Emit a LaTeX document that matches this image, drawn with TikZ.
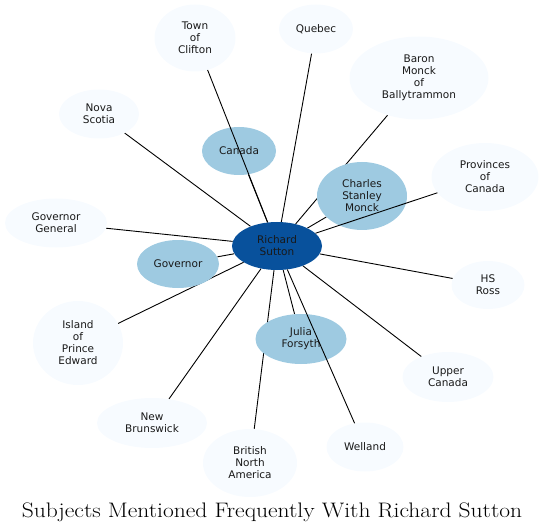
\documentclass[tikz,border=0pt]{standalone}
\usepackage{fontspec}
\setsansfont{DejaVu Sans}
\usepackage{tikz}
\usetikzlibrary{shapes.geometric,backgrounds}
\definecolor{hubblue}{HTML}{08519C}
\definecolor{nearblue}{HTML}{9ECAE1}
\definecolor{farblue}{HTML}{F7FBFF}
\tikzset{topic/.style={ellipse,inner sep=0pt,align=center,text=black!90,
    font=\sffamily\fontsize{10.5}{12}\selectfont},
  hub/.style={topic,fill=hubblue},
  near/.style={topic,fill=nearblue},
  far/.style={topic,fill=farblue},
  link/.style={line width=0.9pt,black}}

\begin{document}
\begin{tikzpicture}[x=1pt,y=-1pt]
\useasboundingbox (0,0) rectangle (544,532);
\node[hub,minimum width=90,minimum height=48] (sutton) at (277,246) {Richard\\Sutton};
\node[near,minimum width=74,minimum height=48] (canada) at (239,151) {Canada};
\node[near,minimum width=90,minimum height=68] (monck) at (362,196) {Charles\\Stanley\\Monck};
\node[near,minimum width=82,minimum height=48] (governor) at (178,264) {Governor};
\node[near,minimum width=91,minimum height=50] (julia) at (301,339) {Julia\\Forsyth};
\node[far,minimum width=81,minimum height=67] (clifton) at (195,38) {Town\\of\\Clifton};
\node[far,minimum width=74,minimum height=49] (quebec) at (316,29) {Quebec};
\node[far,minimum width=139,minimum height=83] (baron) at (419,78) {Baron\\Monck\\of\\Ballytrammon};
\node[far,minimum width=80,minimum height=49] (nova) at (99,114) {Nova\\Scotia};
\node[far,minimum width=107,minimum height=68] (provinces) at (485,177) {Provinces\\of\\Canada};
\node[far,minimum width=102,minimum height=49] (govgen) at (56,223) {Governor\\General};
\node[far,minimum width=73,minimum height=48] (ross) at (488,285) {HS\\Ross};
\node[far,minimum width=90,minimum height=84] (island) at (78,343) {Island\\of\\Prince\\Edward};
\node[far,minimum width=91,minimum height=50] (upper) at (448,377) {Upper\\Canada};
\node[far,minimum width=110,minimum height=50] (brunswick) at (152,423) {New\\Brunswick};
\node[far,minimum width=94,minimum height=68] (bna) at (250,463) {British\\North\\America};
\node[far,minimum width=77,minimum height=49] (welland) at (365,447) {Welland};
\begin{scope}[on background layer]
\foreach \t in {canada,monck,governor,julia,quebec,baron,nova,govgen,ross,island,upper,brunswick,bna}
  \draw[link] (sutton) -- (\t);
\end{scope}
\foreach \t in {clifton,provinces,welland}
  \draw[link] (sutton) -- (\t);
\node[anchor=base,font=\fontsize{21}{24}\selectfont] (title) at (272,517) {\scalebox{1.12}[1]{Subjects Mentioned Frequently With Richard Sutton}};
\end{tikzpicture}
\end{document}
